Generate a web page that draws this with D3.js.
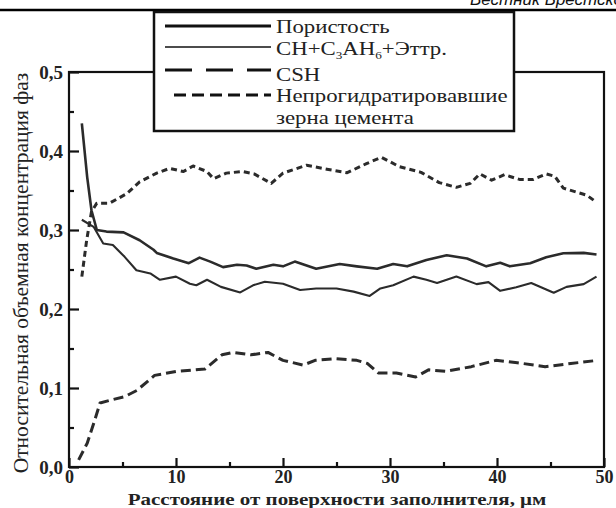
<!DOCTYPE html>
<html><head><meta charset="utf-8">
<script src="https://cdn.jsdelivr.net/npm/d3@7"></script>
<style>
html,body{margin:0;padding:0;background:#fff;}
svg{display:block;}
</style></head>
<body>
<svg id="chart" width="616" height="508"></svg>
<script>
// ---- data ----
const seriesNames = ["Пористость", "CH+C3AH6+Эттр.", "CSH", "Непрогидратировавшие зерна цемента"];
const porosityX = [1.2,1.7,2.1,2.6,3.5,5.1,6.6,7.9,8.2,9.75,11.2,12.2,13.2,14.4,15.7,16.6,17.5,19.1,20.0,21.1,23.1,25.3,26.9,28.8,30.3,31.6,33.4,35.3,37.2,39.0,40.3,41.2,43.1,44.6,46.2,48.1,49.3];
const porosityY = [0.435,0.367,0.325,0.300,0.298,0.297,0.287,0.275,0.271,0.264,0.258,0.265,0.260,0.253,0.256,0.255,0.251,0.256,0.254,0.260,0.251,0.257,0.254,0.251,0.257,0.254,0.262,0.268,0.264,0.254,0.2585,0.254,0.258,0.2655,0.2705,0.271,0.269];
const chX = [1.2,2.3,3.2,4.1,5.2,6.3,7.6,8.5,10.0,11.3,11.9,12.9,14.2,16.0,17.2,18.3,20.0,21.6,23.1,25.0,26.6,28.1,29.1,30.3,32.2,33.4,34.4,36.2,38.1,39.2,40.3,41.8,43.2,45.3,46.5,48.1,49.3];
const chY = [0.313,0.304,0.283,0.281,0.266,0.249,0.245,0.237,0.241,0.232,0.230,0.237,0.228,0.221,0.230,0.2345,0.232,0.224,0.226,0.226,0.222,0.2165,0.226,0.230,0.241,0.237,0.233,0.241,0.2315,0.234,0.223,0.2275,0.233,0.2205,0.228,0.2315,0.241];
const cshX = [0.9,1.7,2.4,2.9,4.0,5.2,6.35,8.0,10.0,11.8,12.7,14.3,15.3,17.0,18.6,20.0,21.9,23.0,24.9,26.9,27.9,28.9,30.6,32.4,33.6,35.2,37.6,39.9,41.9,44.5,46.9,49.4];
const cshY = [0.009,0.030,0.059,0.081,0.085,0.089,0.097,0.116,0.121,0.123,0.124,0.142,0.145,0.142,0.145,0.135,0.129,0.135,0.137,0.135,0.131,0.119,0.119,0.114,0.123,0.121,0.127,0.135,0.132,0.127,0.131,0.135];
const unhydX = [1.2,1.65,2.1,2.6,3.8,5.4,6.6,8.2,9.4,10.7,11.6,12.9,13.5,14.7,16.2,17.3,18.9,20.0,22.2,24.1,26.0,27.8,29.2,30.9,32.9,34.6,36.2,37.5,38.4,39.5,40.7,42.1,43.4,44.6,45.4,46.2,47.4,48.4,49.2];
const unhydY = [0.241,0.287,0.323,0.334,0.334,0.346,0.361,0.372,0.378,0.374,0.381,0.374,0.365,0.372,0.374,0.371,0.359,0.372,0.382,0.377,0.3725,0.384,0.392,0.380,0.373,0.360,0.354,0.359,0.371,0.363,0.370,0.364,0.364,0.371,0.368,0.353,0.348,0.344,0.336];
const xTicks = [0,10,20,30,40,50];
const xMinorTicks = [5,15,25,35,45];
const yTicks = [0,0.1,0.2,0.3,0.4,0.5];
const yMinorTicks = [0.05,0.15,0.25,0.35,0.45];
const xTitle = "Расстояние от поверхности заполнителя, μм";
const yTitle = "Относительная объемная концентрация фаз";
const headerText = "Вестник Брестского";

// ---- layout ----
const SERIF = "'Liberation Serif', 'Times New Roman', 'DejaVu Serif', serif";
const SANS = "'Liberation Sans', Arial, sans-serif";
const L = 69, R = 604, T = 72, B = 467;
const svg = d3.select("#chart");
const x = d3.scaleLinear().domain([0,50]).range([L,R]);
const y = d3.scaleLinear().domain([0,0.5]).range([B,T]);
const fmt = v => d3.format(".1f")(v).replace(".", ",");

// header
svg.append("line").attr("x1",0).attr("x2",616).attr("y1",10).attr("y2",10)
  .attr("stroke","#000").attr("stroke-width",2.5);
svg.append("text").style("font-family",SANS).attr("x",470).attr("y",5)
  .style("font-style","italic").style("font-size","17px").attr("fill","#111").text(headerText);

// frame
svg.append("rect").attr("x",L).attr("y",T).attr("width",R-L).attr("height",B-T)
  .attr("fill","none").attr("stroke","#111").attr("stroke-width",2.2);

// axes via d3
const yAxis = d3.axisLeft(y).tickValues(yTicks).tickSize(-10).tickPadding(6).tickFormat(fmt);
const gy = svg.append("g").attr("transform",`translate(${L},0)`).call(yAxis);
const yAxisMinor = d3.axisLeft(y).tickValues(yMinorTicks).tickSize(-5).tickFormat("");
const gym = svg.append("g").attr("transform",`translate(${L},0)`).call(yAxisMinor);
const xAxis = d3.axisBottom(x).tickValues(xTicks).tickSize(-9).tickPadding(3).tickFormat(d3.format("d"));
const gx = svg.append("g").attr("transform",`translate(0,${B})`).call(xAxis);
const xAxisMinor = d3.axisBottom(x).tickValues(xMinorTicks).tickSize(-5).tickFormat("");
const gxm = svg.append("g").attr("transform",`translate(0,${B})`).call(xAxisMinor);
[gy,gym,gx,gxm].forEach(g => {
  g.attr("font-family",null).attr("font-size",null);
  g.select(".domain").remove();
  g.selectAll(".tick line").attr("stroke","#111").attr("stroke-width",2.2);
  g.selectAll("text").style("font-family",SERIF)
    .style("font-weight","bold").style("font-size","18px").attr("fill","#222");
});
gy.selectAll("text").style("font-size","19px");

// axis titles
svg.append("text").attr("transform","translate(337,505) scale(1.2,1)")
  .attr("text-anchor","middle").style("font-family",SERIF).style("font-weight","bold")
  .style("font-size","17.5px").attr("fill","#222").text(xTitle);
svg.append("text").attr("transform","translate(28,273) rotate(-90)")
  .attr("text-anchor","middle").style("font-family",SERIF).style("font-size","21.5px")
  .attr("fill","#222").text(yTitle);

// series
const series = [
  {xs:porosityX, ys:porosityY, w:2.6, dash:null},
  {xs:chX, ys:chY, w:2.1, dash:null},
  {xs:cshX, ys:cshY, w:3, dash:"10,5"},
  {xs:unhydX, ys:unhydY, w:3, dash:"6,4"}
];
const line = d3.line().x(d=>x(d[0])).y(d=>y(d[1])).curve(d3.curveLinear);
series.forEach(s => {
  svg.append("path").datum(d3.zip(s.xs,s.ys)).attr("d",line)
    .attr("fill","none").attr("stroke","#2b2b2b").attr("stroke-width",s.w)
    .attr("stroke-linejoin","round")
    .attr("stroke-dasharray",s.dash);
});

// legend
const lg = svg.append("g");
lg.append("rect").attr("x",154).attr("y",12).attr("width",360).attr("height",119)
  .attr("fill","#fff").attr("stroke","#111").attr("stroke-width",2.5);
const legendItems = [
  {y:26, w:2.8, dash:null, x1:165},
  {y:47, w:1.5, dash:null, x1:165},
  {y:70, w:3, dash:"27,14", x1:165},
  {y:95, w:3, dash:"12,6", x1:174}
];
legendItems.forEach(it => {
  lg.append("line").attr("x1",it.x1).attr("x2",271).attr("y1",it.y).attr("y2",it.y)
    .attr("stroke","#111").attr("stroke-width",it.w).attr("stroke-dasharray",it.dash);
});
const tx = 276;
function ltext(yy){ return lg.append("text")
  .attr("transform",`translate(${tx},${yy}) scale(1.2,1)`)
  .style("font-family",SERIF).style("font-size","19px").attr("fill","#222"); }
ltext(33).text(seriesNames[0]);
const t2 = ltext(55);
t2.append("tspan").text("CH+C");
t2.append("tspan").style("font-size","11px").attr("dy",4).text("3");
t2.append("tspan").attr("dy",-4).text("AH");
t2.append("tspan").style("font-size","11px").attr("dy",4).text("6");
t2.append("tspan").attr("dy",-4).text("+Эттр.");
ltext(81).text(seriesNames[2]);
const words = seriesNames[3].split(" ");
ltext(102).text(words[0]);
ltext(124).text(words.slice(1).join(" "));
</script>
</body></html>
